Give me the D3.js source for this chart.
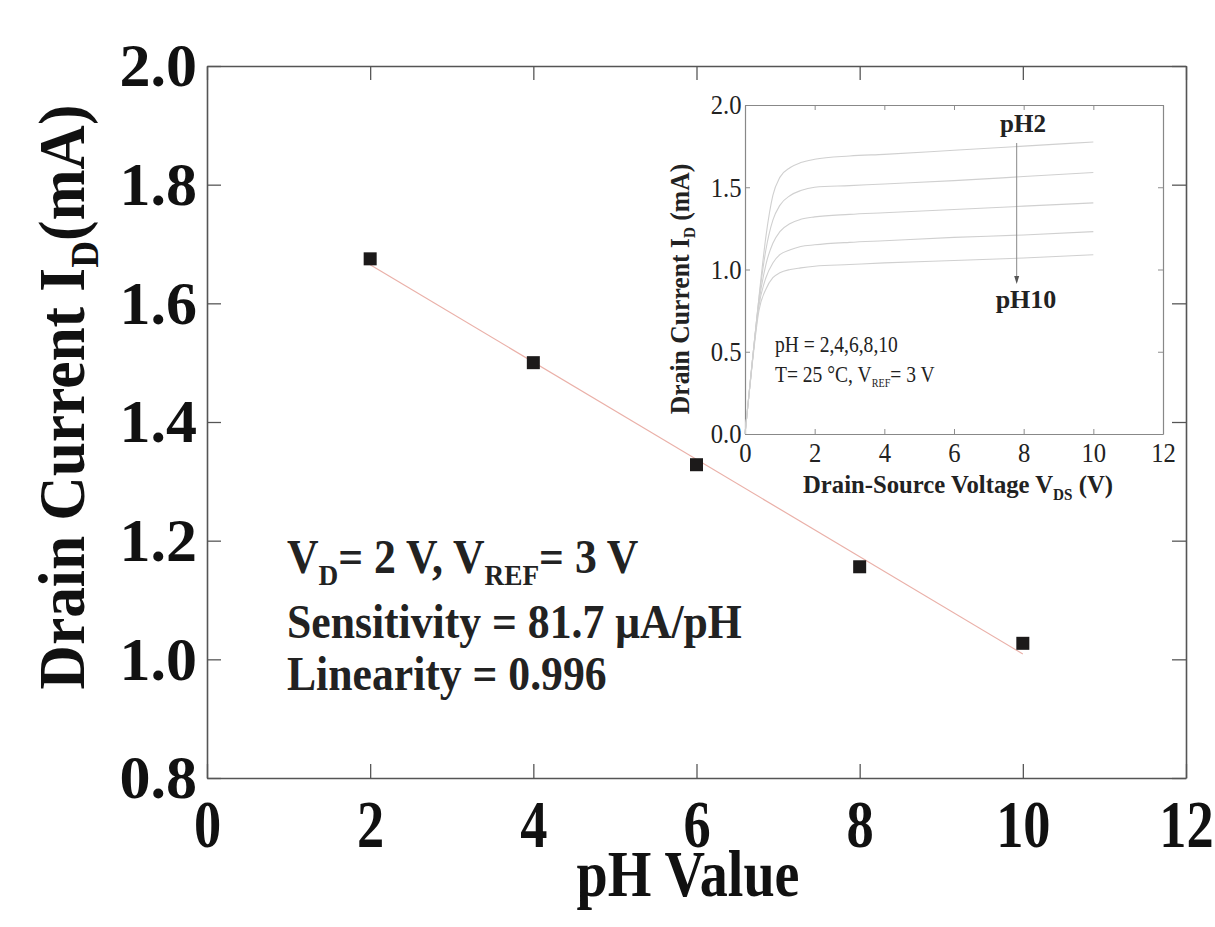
<!DOCTYPE html>
<html>
<head>
<meta charset="utf-8">
<script src="https://cdn.jsdelivr.net/npm/d3@7"></script>
<style>
  body { margin: 0; background: #fff; }
  svg { display: block; }
</style>
</head>
<body>
<div id="chart"></div>
<script>
// Main chart data: drain current vs pH
let phValues = [2, 4, 6, 8, 10];
let drainCurrent = [1.675, 1.500, 1.328, 1.156, 1.027];
let fitPH = [2, 10];
let fitCurrent = [1.665, 1.009];
let mainXTicks = [0, 2, 4, 6, 8, 10, 12];
let mainYTicks = [0.8, 1.0, 1.2, 1.4, 1.6, 1.8, 2.0];

// Inset data: ID-VDS curves
let vdsValues = [0, 0.2, 0.4, 0.6, 0.8, 1.0, 1.3, 1.6, 2, 3, 4, 6, 8, 10];
let curvePH2 = [0, 0.42, 0.83, 1.20, 1.45, 1.56, 1.62, 1.65, 1.67, 1.69, 1.70, 1.725, 1.75, 1.775];
let curvePH4 = [0, 0.42, 0.82, 1.12, 1.30, 1.39, 1.45, 1.48, 1.50, 1.51, 1.52, 1.54, 1.565, 1.59];
let curvePH6 = [0, 0.42, 0.80, 1.03, 1.16, 1.23, 1.28, 1.305, 1.32, 1.335, 1.345, 1.365, 1.385, 1.405];
let curvePH8 = [0, 0.42, 0.78, 0.95, 1.04, 1.09, 1.12, 1.14, 1.15, 1.165, 1.175, 1.195, 1.21, 1.23];
let curvePH10 = [0, 0.41, 0.75, 0.88, 0.95, 0.98, 1.00, 1.01, 1.02, 1.03, 1.04, 1.055, 1.07, 1.09];
let insetCurves = [curvePH2, curvePH4, curvePH6, curvePH8, curvePH10];
let insetXTicks = [0, 2, 4, 6, 8, 10, 12];
let insetYTicks = [0, 0.5, 1.0, 1.5, 2.0];
let arrowVds = 7.8;

let width = 1215;
let height = 927;
let serif = '"Liberation Serif", "Times New Roman", serif';

let svg = d3.select('#chart')
	.append('svg')
	.attr('width', width)
	.attr('height', height);

// ---------- main plot ----------
let x = d3.scaleLinear().domain([0, 12]).range([207, 1186]);
let y = d3.scaleLinear().domain([0.8, 2.0]).range([778, 66]);

let frameColor = '#555';

function styleAxis(g, color, width) {
	g.select('.domain').attr('stroke', color).attr('stroke-width', width);
	g.selectAll('.tick line').attr('stroke', color).attr('stroke-width', width * 0.8);
}

let gx = svg.append('g')
	.attr('transform', 'translate(0,' + y(0.8) + ')')
	.call(d3.axisBottom(x).tickValues(mainXTicks).tickSize(-14).tickSizeOuter(0).tickPadding(21).tickFormat(d3.format('d')));
styleAxis(gx, frameColor, 1.6);
gx.selectAll('text')
	.attr('font-family', serif)
	.attr('font-weight', 'bold')
	.attr('font-size', 68)
	.attr('fill', '#111')
	.attr('transform', 'scale(0.8,1)');

let gy = svg.append('g')
	.attr('transform', 'translate(' + x(0) + ',0)')
	.call(d3.axisLeft(y).tickValues(mainYTicks).tickSize(-14).tickSizeOuter(0).tickPadding(10).tickFormat(d3.format('.1f')));
styleAxis(gy, frameColor, 1.6);
gy.selectAll('text')
	.attr('font-family', serif)
	.attr('font-weight', 'bold')
	.attr('font-size', 62)
	.attr('fill', '#111');

let gt = svg.append('g')
	.attr('transform', 'translate(0,' + y(2.0) + ')')
	.call(d3.axisTop(x).tickValues(mainXTicks).tickSize(-14).tickSizeOuter(0).tickFormat(''));
styleAxis(gt, frameColor, 1.6);

let gr = svg.append('g')
	.attr('transform', 'translate(' + x(12) + ',0)')
	.call(d3.axisRight(y).tickValues(mainYTicks).tickSize(-14).tickSizeOuter(0).tickFormat(''));
styleAxis(gr, frameColor, 1.6);

// x title
svg.append('text')
	.attr('transform', 'translate(688,896) scale(0.85,1)')
	.attr('text-anchor', 'middle')
	.attr('font-family', serif)
	.attr('font-weight', 'bold')
	.attr('font-size', 66)
	.attr('fill', '#111')
	.text('pH Value');

// y title
let yTitle = svg.append('text')
	.attr('transform', 'translate(84,397) rotate(-90) scale(0.93,1)')
	.attr('text-anchor', 'middle')
	.attr('font-family', serif)
	.attr('font-weight', 'bold')
	.attr('font-size', 66)
	.attr('fill', '#111');
yTitle.append('tspan').text('Drain Current I');
yTitle.append('tspan').attr('font-size', 40).attr('dy', 14).text('D');
yTitle.append('tspan').attr('dy', -14).text('(mA)');

// fit line
let fitData = fitPH.map(function(d, i){ return {x: d, y: fitCurrent[i]}; });
svg.append('path')
	.datum(fitData)
	.attr('d', d3.line().x(function(d){ return x(d.x); }).y(function(d){ return y(d.y); }))
	.attr('fill', 'none')
	.attr('stroke', '#eab0a8')
	.attr('stroke-width', 1.2);

// markers
let points = phValues.map(function(d, i){ return {x: d, y: drainCurrent[i]}; });
let sq = 13;
svg.append('g').selectAll('rect')
	.data(points)
	.enter()
	.append('rect')
	.attr('x', function(d){ return x(d.x) - sq / 2; })
	.attr('y', function(d){ return y(d.y) - sq / 2; })
	.attr('width', sq)
	.attr('height', sq)
	.attr('fill', '#1c1a1a');

// annotation
let note = svg.append('g')
	.attr('font-family', serif)
	.attr('font-weight', 'bold')
	.attr('font-size', 48)
	.attr('fill', '#222');
let l1 = note.append('text').attr('transform', 'translate(287,573) scale(0.91,1)');
l1.append('tspan').text('V');
l1.append('tspan').attr('font-size', 30).attr('dy', 12).text('D');
l1.append('tspan').attr('dy', -12).text('= 2 V, V');
l1.append('tspan').attr('font-size', 30).attr('dy', 12).text('REF');
l1.append('tspan').attr('dy', -12).text('= 3 V');
note.append('text').attr('transform', 'translate(287,638) scale(0.91,1)').text('Sensitivity = 81.7 \u03bcA/pH');
note.append('text').attr('transform', 'translate(287,690) scale(0.91,1)').text('Linearity = 0.996');

// ---------- inset ----------
let xi = d3.scaleLinear().domain([0, 12]).range([745, 1163]);
let yi = d3.scaleLinear().domain([0, 2]).range([434, 105]);
let insetColor = '#888';

let ix = svg.append('g')
	.attr('transform', 'translate(0,' + yi(0) + ')')
	.call(d3.axisBottom(xi).tickValues(insetXTicks).tickSize(-5).tickSizeOuter(0).tickPadding(8).tickFormat(d3.format('d')));
styleAxis(ix, insetColor, 1.2);
let iy = svg.append('g')
	.attr('transform', 'translate(' + xi(0) + ',0)')
	.call(d3.axisLeft(yi).tickValues(insetYTicks).tickSize(-5).tickSizeOuter(0).tickPadding(4).tickFormat(d3.format('.1f')));
styleAxis(iy, insetColor, 1.2);
let it = svg.append('g')
	.attr('transform', 'translate(0,' + yi(2) + ')')
	.call(d3.axisTop(xi).tickValues(insetXTicks).tickSize(-5).tickSizeOuter(0).tickFormat(''));
styleAxis(it, insetColor, 1.2);
let ir = svg.append('g')
	.attr('transform', 'translate(' + xi(12) + ',0)')
	.call(d3.axisRight(yi).tickValues(insetYTicks).tickSize(-5).tickSizeOuter(0).tickFormat(''));
styleAxis(ir, insetColor, 1.2);

ix.selectAll('text').attr('font-family', serif).attr('font-size', 28).attr('fill', '#222').attr('transform', 'scale(0.88,1)');
iy.selectAll('text').attr('font-family', serif).attr('font-size', 28).attr('fill', '#222').attr('transform', 'scale(0.88,1)');

// curves
let curveLine = d3.line()
	.x(function(d){ return xi(d[0]); })
	.y(function(d){ return yi(d[1]); })
	.curve(d3.curveMonotoneX);
svg.append('g').selectAll('path')
	.data(insetCurves)
	.enter()
	.append('path')
	.attr('d', function(c){ return curveLine(vdsValues.map(function(v, i){ return [v, c[i]]; })); })
	.attr('fill', 'none')
	.attr('stroke', '#d0d0d0')
	.attr('stroke-width', 1.1);

// arrow from pH2 to pH10, with small marks where it crosses each curve
let arrowX = xi(arrowVds);
svg.append('line')
	.attr('x1', arrowX).attr('x2', arrowX)
	.attr('y1', 143).attr('y2', 282)
	.attr('stroke', '#888')
	.attr('stroke-width', 1);
svg.append('path')
	.attr('d', 'M' + (arrowX - 2.5) + ',276 L' + (arrowX + 2.5) + ',276 L' + arrowX + ',284 Z')
	.attr('fill', '#555');

let inTxt = svg.append('g')
	.attr('font-family', serif)
	.attr('fill', '#222');
inTxt.append('text').attr('x', 1023).attr('y', 132).attr('text-anchor', 'middle')
	.attr('font-weight', 'bold').attr('font-size', 25).text('pH2');
inTxt.append('text').attr('x', 1026).attr('y', 308).attr('text-anchor', 'middle')
	.attr('font-weight', 'bold').attr('font-size', 26).text('pH10');
inTxt.append('text').attr('transform', 'translate(775,352) scale(0.85,1)')
	.attr('font-size', 23).text('pH = 2,4,6,8,10');
let tl = inTxt.append('text').attr('transform', 'translate(775,382) scale(0.85,1)').attr('font-size', 23);
tl.append('tspan').text('T= 25 \u00b0C, V');
tl.append('tspan').attr('font-size', 12).attr('dy', 5).text('REF');
tl.append('tspan').attr('dy', -5).text('= 3 V');

// inset titles
let ixt = inTxt.append('text').attr('transform', 'translate(958,493) scale(0.95,1)')
	.attr('text-anchor', 'middle').attr('font-weight', 'bold').attr('font-size', 26);
ixt.append('tspan').text('Drain-Source Voltage V');
ixt.append('tspan').attr('font-size', 16).attr('dy', 7).text('DS');
ixt.append('tspan').attr('dy', -7).text(' (V)');

let iyt = inTxt.append('text').attr('transform', 'translate(689,289) rotate(-90) scale(0.95,1)')
	.attr('text-anchor', 'middle').attr('font-weight', 'bold').attr('font-size', 27);
iyt.append('tspan').text('Drain Current I');
iyt.append('tspan').attr('font-size', 16).attr('dy', 6).text('D');
iyt.append('tspan').attr('dy', -6).text(' (mA)');
</script>
</body>
</html>
